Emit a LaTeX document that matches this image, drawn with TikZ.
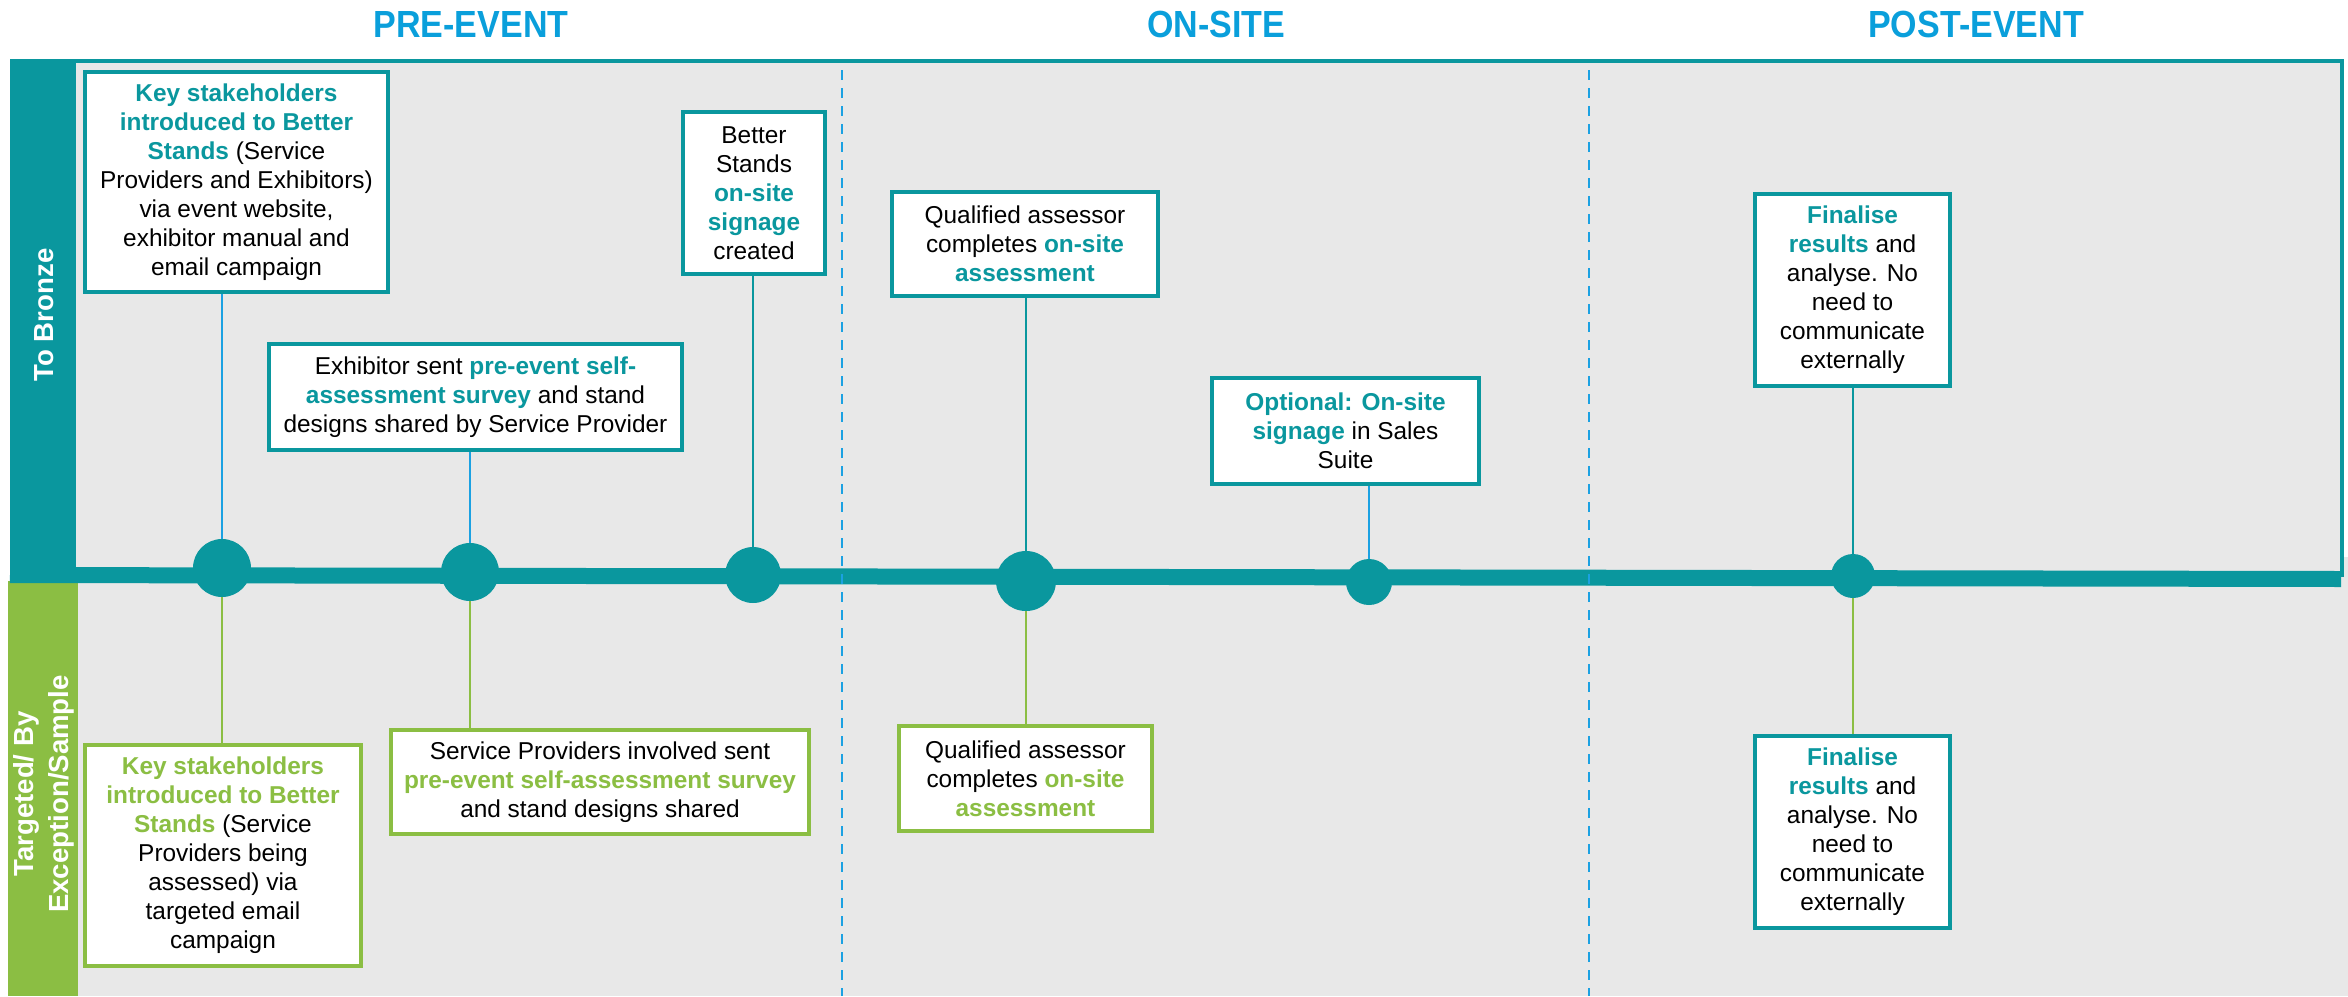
\documentclass[tikz,border=0pt]{standalone}
\usepackage{fontspec}
\setmainfont{Liberation Sans}
\newfontfamily\headfont[FakeStretch=0.9]{Liberation Sans}
\definecolor{bsteal}{HTML}{0A979E}
\definecolor{bsgreen}{HTML}{8BBE43}
\definecolor{bsgray}{HTML}{E8E8E8}
\definecolor{bsblue}{HTML}{1BA1E2}
\definecolor{bshead}{HTML}{0A9FDB}
\newcommand{\keyt}[1]{{\bfseries\color{bsteal}#1}}
\newcommand{\keyg}[1]{{\bfseries\color{bsgreen}#1}}
\tikzset{
  card/.style={draw=bsteal,line width=2pt,fill=white,align=center,inner sep=0pt,
    font=\fontsize{12.2}{14.5}\selectfont},
  gcard/.style={card,draw=bsgreen},
  milestone/.style={circle,fill=bsteal,inner sep=0pt},
  phase/.style={text=bshead,font=\headfont\bfseries\fontsize{18.9}{22}\selectfont},
  lane/.style={text=white,rotate=90,align=center,font=\bfseries\fontsize{13.8}{17.5}\selectfont},
  stemt/.style={draw=bsteal,line width=1.2pt},
  stemb/.style={draw=bsblue,line width=1.2pt},
  stemg/.style={draw=bsgreen,line width=1.2pt}
}
\begin{document}
\begin{tikzpicture}[x=0.5pt,y=-0.5pt]
\useasboundingbox (0,0) rectangle (2348,996);
\fill[bsgray] (76,61) rectangle (2342,996);
\fill[bsgray] (2342,557) rectangle (2348,996);
\fill[bsteal] (10,59) rectangle (76,581);
\fill[bsgreen] (8,581) rectangle (78,996);
\draw[bsteal,line width=2pt] (10,61) -- (2341.5,61) -- (2341.5,577);
\draw[bsteal,line width=8pt] (10,575) coordinate (tstart) -- (2341,579) coordinate (tend);
\draw[bsblue,line width=1.2pt,dash pattern=on 5pt off 4pt] (842,70) -- (842,996);
\draw[bsblue,line width=1.2pt,dash pattern=on 5pt off 4pt] (1589,70) -- (1589,996);

\node[phase] (pre) at (471,24) {PRE-EVENT};
\node[phase] (onsite) at (1216,24) {ON-SITE};
\node[phase] (post) at (1976,24) {POST-EVENT};
\node[lane] (bronze) at (44,315) {To Bronze};
\node[lane] (targeted) at (44,794) {Targeted/ By\\Exception/Sample};

\node[milestone,minimum size=29pt] (m1) at (222,568) {};
\node[milestone,minimum size=29pt] (m2) at (470,572) {};
\node[milestone,minimum size=28pt] (m3) at (753,575) {};
\node[milestone,minimum size=30pt] (m4) at (1026,581) {};
\node[milestone,minimum size=23pt] (m5) at (1369,582) {};
\node[milestone,minimum size=22pt] (m6) at (1853,576) {};

\node[card,minimum width=151.5pt,minimum height=110pt] (intro) at (236.5,182)
  {\keyt{Key stakeholders}\\\keyt{introduced to Better}\\\keyt{Stands} (Service\\Providers and Exhibitors)\\via event website,\\exhibitor manual and\\email campaign};
\node[card,minimum width=71pt,minimum height=81pt] (sign) at (754,193)
  {Better\\Stands\\\keyt{on-site}\\\keyt{signage}\\created};
\node[card,minimum width=206.5pt,minimum height=53pt] (survey) at (475.5,397)
  {Exhibitor sent \keyt{pre-event self-}\\\keyt{assessment survey} and stand\\designs shared by Service Provider};
\node[card,minimum width=133pt,minimum height=52pt] (assess) at (1025,244)
  {Qualified assessor\\completes \keyt{on-site}\\\keyt{assessment}};
\node[card,minimum width=133.5pt,minimum height=53pt] (sales) at (1345.5,431)
  {\keyt{Optional: On-site}\\\keyt{signage} in Sales\\Suite};
\node[card,minimum width=97.5pt,minimum height=96pt] (final) at (1852.5,290)
  {\keyt{Finalise}\\\keyt{results} and\\analyse. No\\need to\\communicate\\externally};

\node[gcard,minimum width=138pt,minimum height=110.5pt] (gintro) at (223,855.5)
  {\keyg{Key stakeholders}\\\keyg{introduced to Better}\\\keyg{Stands} (Service\\Providers being\\assessed) via\\targeted email\\campaign};
\node[gcard,minimum width=209pt,minimum height=52pt] (gsurvey) at (600,782)
  {Service Providers involved sent\\\keyg{pre-event self-assessment survey}\\and stand designs shared};
\node[gcard,minimum width=126.5pt,minimum height=52.5pt] (gassess) at (1025.5,778.5)
  {Qualified assessor\\completes \keyg{on-site}\\\keyg{assessment}};
\node[card,minimum width=97.5pt,minimum height=96pt] (gfinal) at (1852.5,832)
  {\keyt{Finalise}\\\keyt{results} and\\analyse. No\\need to\\communicate\\externally};

\draw[stemb] (intro.south -| m1) -- (m1);
\draw[stemb] (survey.south -| m2) -- (m2);
\draw[stemt] (sign.south -| m3) -- (m3);
\draw[stemt] (assess.south -| m4) -- (m4);
\draw[stemb] (sales.south -| m5) -- (m5);
\draw[stemt] (final.south -| m6) -- (m6);
\draw[stemg] (m1) -- (m1 |- gintro.north);
\draw[stemg] (m2) -- (m2 |- gsurvey.north);
\draw[stemg] (m4) -- (m4 |- gassess.north);
\draw[stemg] (m6) -- (m6 |- gfinal.north);
\end{tikzpicture}
\end{document}
